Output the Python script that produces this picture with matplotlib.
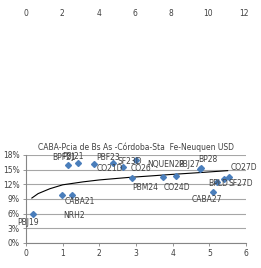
import matplotlib
matplotlib.use("Agg")
import matplotlib.pyplot as plt
from matplotlib.ticker import FuncFormatter

# ---- data ----
labels = ["PBJ19", "NRH2", "CABA21", "BPF21", "PBJ21", "PBF23", "CO21D", "SF23D",
          "CO26", "PBM24", "CO24D", "NQUEN28", "PBJ27", "BP28", "CABA27", "BPLD",
          "CO27D", "SF27D"]
duration = [0.19, 0.97, 1.25, 1.14, 1.42, 1.85, 2.37, 2.65,
            3.00, 2.88, 3.73, 4.08, 4.74, 4.77, 5.09, 5.20,
            5.39, 5.53]
yield_pct = [5.9, 9.8, 9.9, 15.95, 16.4, 16.2, 16.4, 15.5,
             16.9, 13.3, 13.5, 13.7, 15.1, 15.3, 10.4, 12.5,
             13.1, 13.5]
# trend curve
trend_x = [0.16, 0.33, 0.65, 1.0, 1.55, 2.0, 2.78, 3.46, 3.92, 4.74, 5.5]
trend_y = [9.2, 10.1, 11.1, 11.9, 12.5, 12.9, 13.4, 13.75, 14.0, 14.4, 14.8]
x_ticks = [0, 1, 2, 3, 4, 5, 6]
y_ticks = [0, 3, 6, 9, 12, 15, 18]
top_ticks = [0, 2, 4, 6, 8, 10, 12]
title = "CABA-Pcia de Bs As -Córdoba-Sta  Fe-Neuquen USD"

# label offsets in pixels (style)
offsets = [(-5, -8), (12, -20), (8, -7), (-4, 8), (-5, 6), (14, 6), (-3, -6), (7, 6),
           (5, -8), (14, -10), (14, -11), (-10, 12), (-11, 5), (7, 9), (-6, -7), (2, -2),
           (20, 11), (12, -6)]

W, H = 261, 268
fig = plt.figure(figsize=(W / 100, H / 100), dpi=100)
fs = 5.5
txt = "#404040"

ax = fig.add_axes([26 / W, (H - 243) / H, 220 / W, 88 / H])
ax.set_xlim(0, 6)
ax.set_ylim(0, 18)
ax.set_xticks(x_ticks)
ax.set_yticks(y_ticks)
ax.yaxis.set_major_formatter(FuncFormatter(lambda v, p: f"{v:.0f}%"))
ax.grid(axis="y", color="#A6A6A6", lw=0.8)
ax.set_axisbelow(True)
for s in ["top", "right"]:
    ax.spines[s].set_visible(False)
for s in ["left", "bottom"]:
    ax.spines[s].set_color("#868686")
    ax.spines[s].set_linewidth(0.8)
ax.tick_params(axis="both", labelsize=fs, colors="#868686", labelcolor=txt,
               length=2.5, width=0.6, pad=2)

ax.plot(trend_x, trend_y, color="black", lw=0.8, zorder=2)
ax.plot(duration, yield_pct, linestyle="none", marker="D", markersize=3.0,
        color="#4A7EBB", zorder=3)
for lab, xv, yv, (dx, dy) in zip(labels, duration, yield_pct, offsets):
    ax.annotate(lab, (xv, yv), xytext=(dx, dy), textcoords="offset pixels",
                ha="center", va="center", fontsize=fs, color=txt, zorder=4,
                annotation_clip=False)
ax.set_title(title, fontsize=fs, color=txt, pad=3.5)

# remnant top axis labels
ax2 = fig.add_axes([26 / W, (H - 8) / H, 218 / W, 0.001])
ax2.set_xlim(0, 12)
ax2.set_xticks(top_ticks)
ax2.set_yticks([])
for s in ax2.spines.values():
    s.set_visible(False)
ax2.patch.set_visible(False)
ax2.tick_params(axis="x", length=0, labelsize=fs, labelcolor=txt, pad=1)

fig.savefig("out.png", dpi=100)
